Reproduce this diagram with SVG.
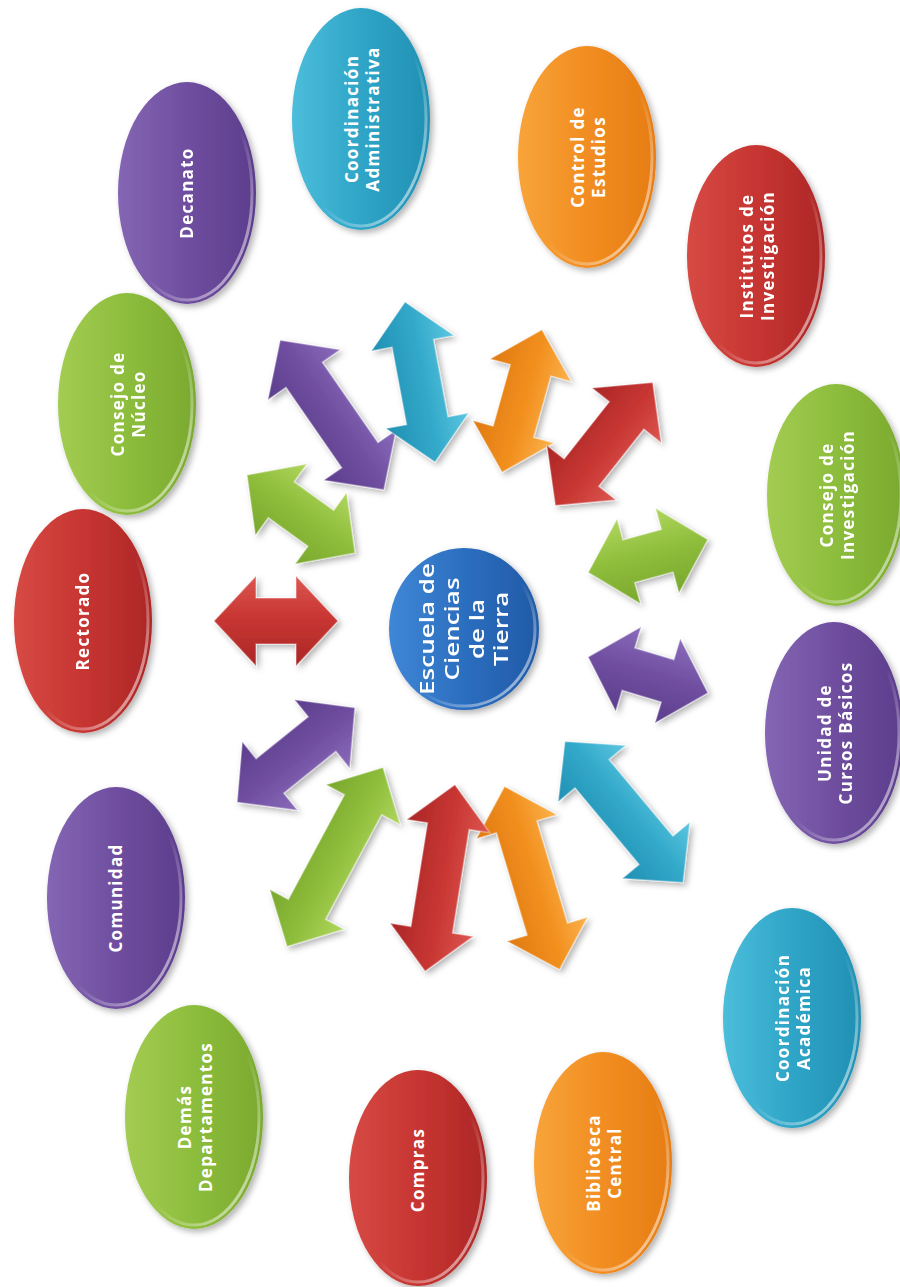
<svg xmlns="http://www.w3.org/2000/svg" width="900" height="1287" viewBox="0 0 900 1287">
<defs>
<linearGradient id="gPurple" x1="0" y1="0" x2="1" y2="0"><stop offset="0" stop-color="#8466b4"/><stop offset="0.5" stop-color="#6f4e9f"/><stop offset="1" stop-color="#5c3d8c"/></linearGradient>
<linearGradient id="gCyan" x1="0" y1="0" x2="1" y2="0"><stop offset="0" stop-color="#4cbddb"/><stop offset="0.5" stop-color="#2fa5c7"/><stop offset="1" stop-color="#2190b3"/></linearGradient>
<linearGradient id="gOrange" x1="0" y1="0" x2="1" y2="0"><stop offset="0" stop-color="#f8a43a"/><stop offset="0.5" stop-color="#f18d21"/><stop offset="1" stop-color="#e67d14"/></linearGradient>
<linearGradient id="gRed" x1="0" y1="0" x2="1" y2="0"><stop offset="0" stop-color="#d64a44"/><stop offset="0.5" stop-color="#c73531"/><stop offset="1" stop-color="#ad2727"/></linearGradient>
<linearGradient id="gGreen" x1="0" y1="0" x2="1" y2="0"><stop offset="0" stop-color="#a3cc52"/><stop offset="0.5" stop-color="#8dbd3c"/><stop offset="1" stop-color="#7aa92f"/></linearGradient>
<linearGradient id="gBlue" x1="0" y1="0" x2="1" y2="0"><stop offset="0" stop-color="#3f87d6"/><stop offset="0.5" stop-color="#2c6ebf"/><stop offset="1" stop-color="#215aa6"/></linearGradient>
<linearGradient id="aPurple" x1="0" y1="0" x2="0" y2="1"><stop offset="0" stop-color="#8a6bbb"/><stop offset="0.45" stop-color="#7150a2"/><stop offset="1" stop-color="#5c3d8c"/></linearGradient>
<linearGradient id="aCyan" x1="0" y1="0" x2="0" y2="1"><stop offset="0" stop-color="#5cc6e0"/><stop offset="0.45" stop-color="#33a9ca"/><stop offset="1" stop-color="#2190b3"/></linearGradient>
<linearGradient id="aOrange" x1="0" y1="0" x2="0" y2="1"><stop offset="0" stop-color="#fbb24c"/><stop offset="0.45" stop-color="#f2901f"/><stop offset="1" stop-color="#e07a12"/></linearGradient>
<linearGradient id="aRed" x1="0" y1="0" x2="0" y2="1"><stop offset="0" stop-color="#dc5650"/><stop offset="0.45" stop-color="#c93733"/><stop offset="1" stop-color="#ab2626"/></linearGradient>
<linearGradient id="aGreen" x1="0" y1="0" x2="0" y2="1"><stop offset="0" stop-color="#b0d65e"/><stop offset="0.45" stop-color="#90bf3d"/><stop offset="1" stop-color="#78a72d"/></linearGradient>
<linearGradient id="rim" x1="0" y1="0" x2="1" y2="1"><stop offset="0" stop-color="#fff" stop-opacity="0"/><stop offset="0.55" stop-color="#fff" stop-opacity="0"/><stop offset="1" stop-color="#fff" stop-opacity="0.75"/></linearGradient>
<filter id="sh" x="-20%" y="-20%" width="140%" height="140%"><feDropShadow dx="3" dy="3" stdDeviation="3" flood-color="#000" flood-opacity="0.3"/></filter>
</defs>
<style>
.lbl{font-family:"Open Sans","Liberation Sans",sans-serif;font-weight:700;font-size:17px;fill:#fff;letter-spacing:1.3px;text-anchor:middle}
.ctr{font-family:"Open Sans","Liberation Sans",sans-serif;font-weight:600;font-size:20px;fill:#fff;text-anchor:middle}
.rim{fill:none;stroke:url(#rim);stroke-width:3}
.arr{stroke:#ffffff;stroke-opacity:0.35;stroke-width:1.5;stroke-linejoin:miter}
</style>
<rect width="900" height="1287" fill="#ffffff"/>

<g id="connectors" filter="url(#sh)">
<polygon class="arr" fill="url(#aRed)" transform="translate(276,621)" points="-62,0 -20,-45 -20,-23 20,-23 20,-45 62,0 20,45 20,23 -20,23 -20,45"/>
<polygon class="arr" fill="url(#aGreen)" transform="translate(301,514) rotate(35.8)" points="-66.5,0 -24.5,-44 -24.5,-22 24.5,-22 24.5,-44 66.5,0 24.5,44 24.5,22 -24.5,22 -24.5,44"/>
<polygon class="arr" fill="url(#aPurple)" transform="translate(332,415) rotate(55.3)" points="-91,0 -49,-44 -49,-22 49,-22 49,-44 91,0 49,44 49,22 -49,22 -49,44"/>
<polygon class="arr" fill="url(#aCyan)" transform="translate(420,382) rotate(79.4)" points="-81.5,0 -39.5,-42 -39.5,-21 39.5,-21 39.5,-42 81.5,0 39.5,42 39.5,21 -39.5,21 -39.5,42"/>
<polygon class="arr" fill="url(#aOrange)" transform="translate(522,401) rotate(105.6)" points="-74,0 -32,-42 -32,-21 32,-21 32,-42 74,0 32,42 32,21 -32,21 -32,42"/>
<polygon class="arr" fill="url(#aRed)" transform="translate(604,444) rotate(128.3)" points="-78.5,0 -36.5,-44 -36.5,-22 36.5,-22 36.5,-44 78.5,0 36.5,44 36.5,22 -36.5,22 -36.5,44"/>
<polygon class="arr" fill="url(#aGreen)" transform="translate(648,556) rotate(-15.4)" points="-62,0 -20,-44 -20,-22 20,-22 20,-44 62,0 20,44 20,22 -20,22 -20,44"/>
<polygon class="arr" fill="url(#aPurple)" transform="translate(648,675) rotate(16.7)" points="-62.5,0 -20.5,-44 -20.5,-22 20.5,-22 20.5,-44 62.5,0 20.5,44 20.5,22 -20.5,22 -20.5,44"/>
<polygon class="arr" fill="url(#aCyan)" transform="translate(624,812) rotate(50.1)" points="-92,0 -50,-44 -50,-22 50,-22 50,-44 92,0 50,44 50,22 -50,22 -50,44"/>
<polygon class="arr" fill="url(#aOrange)" transform="translate(532,878) rotate(73.3)" points="-95.5,0 -53.5,-42 -53.5,-21 53.5,-21 53.5,-42 95.5,0 53.5,42 53.5,21 -53.5,21 -53.5,42"/>
<polygon class="arr" fill="url(#aRed)" transform="translate(440,878) rotate(99.1)" points="-94.5,0 -52.5,-42 -52.5,-21 52.5,-21 52.5,-42 94.5,0 52.5,42 52.5,21 -52.5,21 -52.5,42"/>
<polygon class="arr" fill="url(#aGreen)" transform="translate(335,857) rotate(118.2)" points="-101.5,0 -59.5,-42 -59.5,-21 59.5,-21 59.5,-42 101.5,0 59.5,42 59.5,21 -59.5,21 -59.5,42"/>
<polygon class="arr" fill="url(#aPurple)" transform="translate(296,755) rotate(141.2)" points="-75.5,0 -33.5,-44 -33.5,-22 33.5,-22 33.5,-44 75.5,0 33.5,44 33.5,22 -33.5,22 -33.5,44"/>
</g>

<g id="n-centro">
<ellipse cx="464" cy="629" rx="75" ry="81" fill="url(#gBlue)" filter="url(#sh)"/>
<ellipse class="rim" cx="464" cy="629" rx="71" ry="77"/>
<text class="ctr" transform="translate(464,629) rotate(-90) scale(1.3,1)"><tspan x="0" y="-30">Escuela de</tspan><tspan x="0" y="-5">Ciencias</tspan><tspan x="0" y="20">de la</tspan><tspan x="0" y="44">Tierra</tspan></text>
</g>

<g id="n-decanato">
<ellipse cx="187" cy="193" rx="69" ry="111" fill="url(#gPurple)" filter="url(#sh)"/>
<ellipse class="rim" cx="187" cy="193" rx="65" ry="107"/>
<text class="lbl" transform="translate(187,193) rotate(-90)"><tspan x="0" y="6">Decanato</tspan></text>
</g>

<g id="n-coord-admin">
<ellipse cx="361" cy="119" rx="69" ry="111" fill="url(#gCyan)" filter="url(#sh)"/>
<ellipse class="rim" cx="361" cy="119" rx="65" ry="107"/>
<text class="lbl" transform="translate(361,119) rotate(-90)"><tspan x="0" y="-3.5">Coordinación</tspan><tspan x="0" y="17.5">Administrativa</tspan></text>
</g>

<g id="n-control">
<ellipse cx="587" cy="157" rx="69" ry="111" fill="url(#gOrange)" filter="url(#sh)"/>
<ellipse class="rim" cx="587" cy="157" rx="65" ry="107"/>
<text class="lbl" transform="translate(587,157) rotate(-90)"><tspan x="0" y="-3.5">Control de</tspan><tspan x="0" y="17.5">Estudios</tspan></text>
</g>

<g id="n-institutos">
<ellipse cx="756" cy="256" rx="69" ry="111" fill="url(#gRed)" filter="url(#sh)"/>
<ellipse class="rim" cx="756" cy="256" rx="65" ry="107"/>
<text class="lbl" transform="translate(756,256) rotate(-90)"><tspan x="0" y="-3.5">Institutos de</tspan><tspan x="0" y="17.5">Investigación</tspan></text>
</g>

<g id="n-consejo-nucleo">
<ellipse cx="127" cy="404" rx="69" ry="111" fill="url(#gGreen)" filter="url(#sh)"/>
<ellipse class="rim" cx="127" cy="404" rx="65" ry="107"/>
<text class="lbl" transform="translate(127,404) rotate(-90)"><tspan x="0" y="-3.5">Consejo de</tspan><tspan x="0" y="17.5">Núcleo</tspan></text>
</g>

<g id="n-consejo-inv">
<ellipse cx="836" cy="495" rx="69" ry="111" fill="url(#gGreen)" filter="url(#sh)"/>
<ellipse class="rim" cx="836" cy="495" rx="65" ry="107"/>
<text class="lbl" transform="translate(836,495) rotate(-90)"><tspan x="0" y="-3.5">Consejo de</tspan><tspan x="0" y="17.5">Investigación</tspan></text>
</g>

<g id="n-rectorado">
<ellipse cx="83" cy="621" rx="69" ry="112" fill="url(#gRed)" filter="url(#sh)"/>
<ellipse class="rim" cx="83" cy="621" rx="65" ry="108"/>
<text class="lbl" transform="translate(83,621) rotate(-90)"><tspan x="0" y="6">Rectorado</tspan></text>
</g>

<g id="n-unidad">
<ellipse cx="834" cy="733" rx="69" ry="111" fill="url(#gPurple)" filter="url(#sh)"/>
<ellipse class="rim" cx="834" cy="733" rx="65" ry="107"/>
<text class="lbl" transform="translate(834,733) rotate(-90)"><tspan x="0" y="-3.5">Unidad de</tspan><tspan x="0" y="17.5">Cursos Básicos</tspan></text>
</g>

<g id="n-comunidad">
<ellipse cx="116" cy="898" rx="69" ry="111" fill="url(#gPurple)" filter="url(#sh)"/>
<ellipse class="rim" cx="116" cy="898" rx="65" ry="107"/>
<text class="lbl" transform="translate(116,898) rotate(-90)"><tspan x="0" y="6">Comunidad</tspan></text>
</g>

<g id="n-coord-acad">
<ellipse cx="792" cy="1018" rx="69" ry="110" fill="url(#gCyan)" filter="url(#sh)"/>
<ellipse class="rim" cx="792" cy="1018" rx="65" ry="106"/>
<text class="lbl" transform="translate(792,1018) rotate(-90)"><tspan x="0" y="-3.5">Coordinación</tspan><tspan x="0" y="17.5">Académica</tspan></text>
</g>

<g id="n-demas">
<ellipse cx="194" cy="1117" rx="69" ry="112" fill="url(#gGreen)" filter="url(#sh)"/>
<ellipse class="rim" cx="194" cy="1117" rx="65" ry="108"/>
<text class="lbl" transform="translate(194,1117) rotate(-90)"><tspan x="0" y="-3.5">Demás</tspan><tspan x="0" y="17.5">Departamentos</tspan></text>
</g>

<g id="n-compras">
<ellipse cx="418" cy="1178" rx="69" ry="108" fill="url(#gRed)" filter="url(#sh)"/>
<ellipse class="rim" cx="418" cy="1178" rx="65" ry="104"/>
<text class="lbl" transform="translate(418,1170) rotate(-90)"><tspan x="0" y="6">Compras</tspan></text>
</g>

<g id="n-biblioteca">
<ellipse cx="603" cy="1163" rx="69" ry="111" fill="url(#gOrange)" filter="url(#sh)"/>
<ellipse class="rim" cx="603" cy="1163" rx="65" ry="107"/>
<text class="lbl" transform="translate(603,1163) rotate(-90)"><tspan x="0" y="-3.5">Biblioteca</tspan><tspan x="0" y="17.5">Central</tspan></text>
</g>
</svg>
